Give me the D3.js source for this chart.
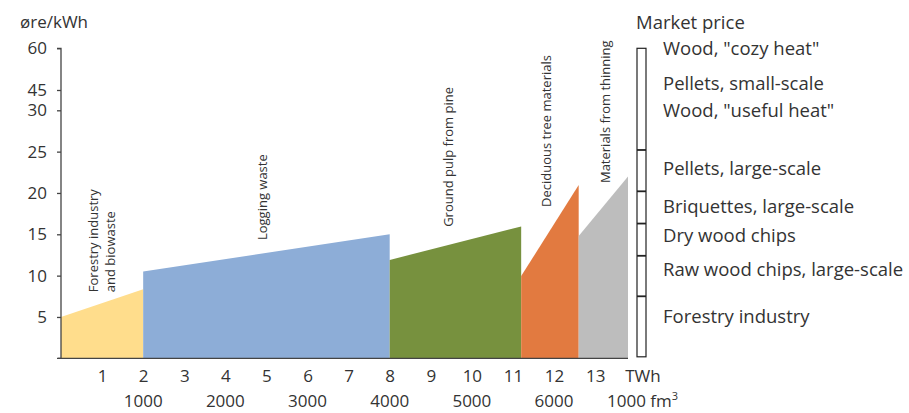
<!DOCTYPE html>
<html><head><meta charset="utf-8">
<script src="https://cdn.jsdelivr.net/npm/d3@7"></script>
<style>body{margin:0;background:#fff} svg{display:block}</style>
</head><body><svg id="c" width="909" height="413"></svg>
<script>
// ---- data ----
const segments = ["Forestry industry|and biowaste", "Logging waste", "Ground pulp from pine", "Deciduous tree materials", "Materials from thinning"];
const segStart = [0, 2, 8, 11.2, 12.6];        // TWh
const segEnd = [2, 8, 11.2, 12.6, 13.8];        // TWh
const priceStart = [5.0, 10.5, 11.9, 9.95, 14.8]; // øre/kWh
const priceEnd = [8.35, 15.0, 15.95, 20.95, 22.0];
const segColors = ["#FFDD8C", "#8DADD7", "#77913E", "#E27A40", "#BDBDBD"];
const labelAt = [1.0, 4.9, 9.42, 11.82, 13.24];   // TWh
const labelBase = [8.0, 14.3, 15.9, 18.3, 21.2];  // øre/kWh
const yTicks = [5, 10, 15, 20, 25, 30, 45, 60];
const xTicks = [1, 2, 3, 4, 5, 6, 7, 8, 9, 10, 11, 12, 13];
const fmAt = [2, 4, 6, 8, 10, 12];
const fmLabels = ["1000", "2000", "3000", "4000", "5000", "6000"];
const marketLabels = ['Wood, "cozy heat"', 'Pellets, small-scale', 'Wood, "useful heat"', 'Pellets, large-scale', 'Briquettes, large-scale', 'Dry wood chips', 'Raw wood chips, large-scale', 'Forestry industry'];
const marketLabelAt = [60, 47.5, 30, 23, 18.4, 14.8, 10.7, 5.0];
const marketBounds = [25.2, 20.2, 16.3, 12.4, 7.5];

// ---- drawing ----
const svg = d3.select("#c");
const txt = "#333";
const x = d3.scaleLinear().domain([0, 13.8]).range([61, 628]);
const y = d3.scaleLinear().domain([0, 30, 45, 60]).range([358.3, 110.3, 90, 48.3]);

// areas
const area = d3.area().x(d => x(d[0])).y0(y(0)).y1(d => y(d[1]));
segments.forEach((s, i) => {
  svg.append("path")
    .attr("d", area([[segStart[i], priceStart[i]], [segEnd[i], priceEnd[i]]]))
    .attr("fill", segColors[i]);
});

// y axis
const yAxis = d3.axisLeft(y).tickValues(yTicks).tickSize(4).tickPadding(10).tickFormat(d3.format("d"));
const gy = svg.append("g").attr("transform", `translate(${x(0)},0)`).call(yAxis);
gy.select(".domain").attr("d", `M-4,${y(60)}H0V${y(0)}H-4`).attr("stroke", "#444").attr("stroke-width", 1.3);
gy.selectAll(".tick line").attr("stroke", "#444").attr("stroke-width", 1.3);
gy.selectAll(".tick text").attr("fill", txt).style("font", "17px 'Open Sans', sans-serif");

// x axis line
svg.append("line").attr("x1", x(0) - 3).attr("x2", x(13.8)).attr("y1", y(0)).attr("y2", y(0))
  .attr("stroke", "#444").attr("stroke-width", 1.3);

// x labels TWh
const xAxis = d3.axisBottom(x).tickValues(xTicks).tickSize(0).tickPadding(12).tickFormat(d3.format("d"));
const gx = svg.append("g").attr("transform", `translate(0,${y(0)})`).call(xAxis);
gx.select(".domain").remove();
gx.selectAll(".tick text").attr("fill", txt).style("font", "17px 'Open Sans', sans-serif");
svg.append("text").attr("x", 643).attr("y", 382).attr("text-anchor", "middle").attr("fill", txt)
  .style("font", "17px 'Open Sans', sans-serif").text("TWh");

// fm3 labels
svg.selectAll(".fm").data(fmAt).enter().append("text")
  .attr("x", d => x(d)).attr("y", 407).attr("text-anchor", "middle").attr("fill", txt)
  .style("font", "17px 'Open Sans', sans-serif").text((d, i) => fmLabels[i]);
const fmUnit = svg.append("text").attr("x", 607).attr("y", 407).attr("fill", txt)
  .style("font", "17px 'Open Sans', sans-serif");
fmUnit.append("tspan").text("1000 fm");
fmUnit.append("tspan").attr("dy", -7).style("font-size", "11px").text("3");

// y unit
svg.append("text").attr("x", 20).attr("y", 28).attr("fill", txt)
  .style("font", "17px 'Open Sans', sans-serif").text("øre/kWh");

// rotated segment labels
segments.forEach((s, i) => {
  const lines = s.split("|");
  lines.forEach((l, j) => {
    const cx = x(labelAt[i]) + (j - (lines.length - 1) / 2) * 17;
    svg.append("text")
      .attr("transform", `translate(${cx},${y(labelBase[i])}) rotate(-90)`)
      .attr("dy", "0.35em").attr("fill", txt)
      .style("font", "13px 'Open Sans', sans-serif").text(l);
  });
});

// market price bar
svg.append("rect").attr("x", 637).attr("y", y(60)).attr("width", 9).attr("height", y(0) - 1.5 - y(60))
  .attr("fill", "#fff").attr("stroke", "#222").attr("stroke-width", 1.2);
svg.selectAll(".mb").data(marketBounds).enter().append("line")
  .attr("x1", 637).attr("x2", 646).attr("y1", d => y(d)).attr("y2", d => y(d))
  .attr("stroke", "#222").attr("stroke-width", 1.8);
svg.append("text").attr("x", 636).attr("y", 29).attr("fill", txt)
  .style("font", "18.5px 'Open Sans', sans-serif").text("Market price");
svg.selectAll(".ml").data(marketLabels).enter().append("text")
  .attr("x", 663).attr("y", (d, i) => y(marketLabelAt[i])).attr("dy", "0.35em").attr("fill", txt)
  .style("font", "18.5px 'Open Sans', sans-serif").text(d => d);
</script></body></html>
